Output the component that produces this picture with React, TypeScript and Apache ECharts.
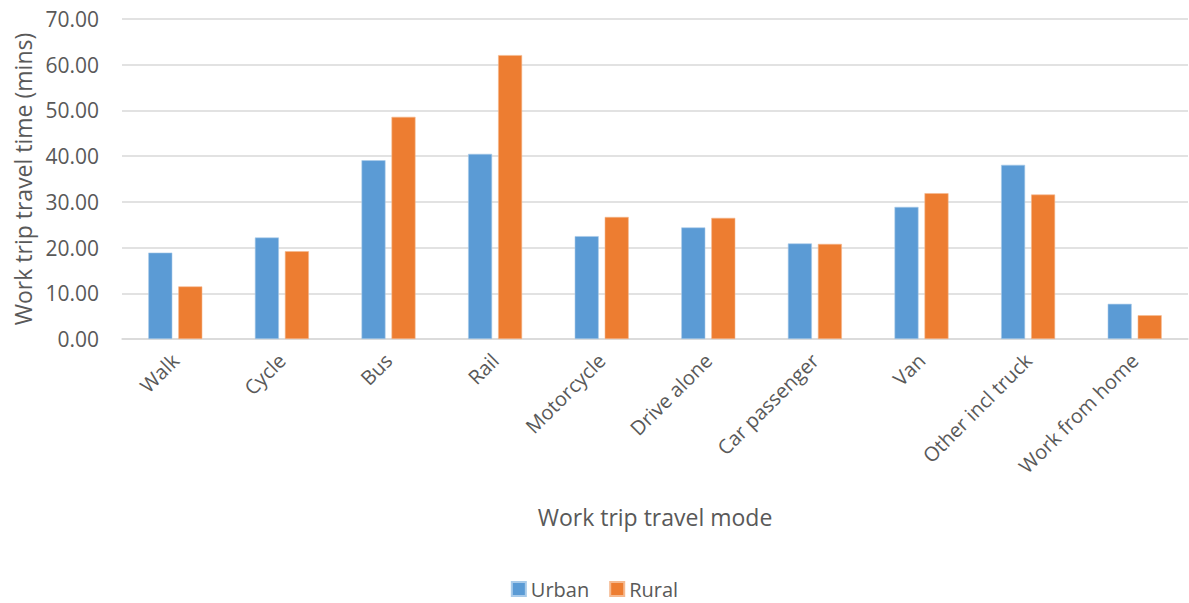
import React, { useEffect, useRef } from "react";
import * as echarts from "echarts";

const categories = [
  "Walk",
  "Cycle",
  "Bus",
  "Rail",
  "Motorcycle",
  "Drive alone",
  "Car passenger",
  "Van",
  "Other incl truck",
  "Work from home",
];
const urban = [18.9, 22.2, 39.1, 40.5, 22.5, 24.4, 20.9, 28.9, 38.1, 7.7];
const rural = [11.5, 19.2, 48.6, 62.1, 26.7, 26.5, 20.8, 31.9, 31.6, 5.2];

const FONT = "'Open Sans', 'Liberation Sans', sans-serif";
const TEXT = "#595959";

export default function App() {
  const ref = useRef<HTMLDivElement>(null);
  useEffect(() => {
    document.body.style.margin = "0";
    const chart = echarts.init(ref.current!, null, { renderer: "svg" });
    chart.setOption({
      animation: false,
      textStyle: { fontFamily: FONT, color: TEXT },
      grid: { left: 122, right: 1, top: 19, bottom: 264 },
      legend: {
        top: 578,
        left: "center",
        padding: 0,
        icon: "rect",
        itemWidth: 14,
        itemHeight: 14,
        itemGap: 20,
        textStyle: { fontFamily: FONT, fontSize: 20, color: TEXT, lineHeight: 22 },
        data: ["Urban", "Rural"],
      },
      xAxis: {
        type: "category",
        data: categories,
        name: "Work trip travel mode",
        nameLocation: "middle",
        nameGap: 166,
        nameTextStyle: { fontFamily: FONT, fontSize: 23, color: TEXT },
        axisLine: { lineStyle: { color: "#D9D9D9", width: 1.5 } },
        axisTick: { show: false },
        axisLabel: {
          rotate: 45,
          margin: 18,
          interval: 0,
          fontFamily: FONT,
          fontSize: 20,
          color: TEXT,
        },
      },
      yAxis: {
        type: "value",
        min: 0,
        max: 70,
        interval: 10,
        name: "Work trip travel time (mins)",
        nameLocation: "middle",
        nameGap: 88,
        nameTextStyle: { fontFamily: FONT, fontSize: 23, color: TEXT },
        axisLine: { show: false },
        axisTick: { show: false },
        splitLine: { lineStyle: { color: "#D9D9D9", width: 1.5 } },
        axisLabel: {
          margin: 23,
          fontFamily: FONT,
          fontSize: 21,
          color: TEXT,
          formatter: (v: number) => v.toFixed(2),
        },
      },
      series: [
        {
          name: "Urban",
          type: "bar",
          data: urban,
          barWidth: 24,
          barGap: "25%",
          itemStyle: { color: "#5B9BD5", borderColor: "#A9CBEA", borderWidth: 0.6 },
        },
        {
          name: "Rural",
          type: "bar",
          data: rural,
          barWidth: 24,
          barGap: "25%",
          itemStyle: { color: "#ED7D31", borderColor: "#F5B98F", borderWidth: 0.6 },
        },
      ],
    });
    return () => chart.dispose();
  }, []);
  return <div ref={ref} style={{ width: 1189, height: 603 }} />;
}
